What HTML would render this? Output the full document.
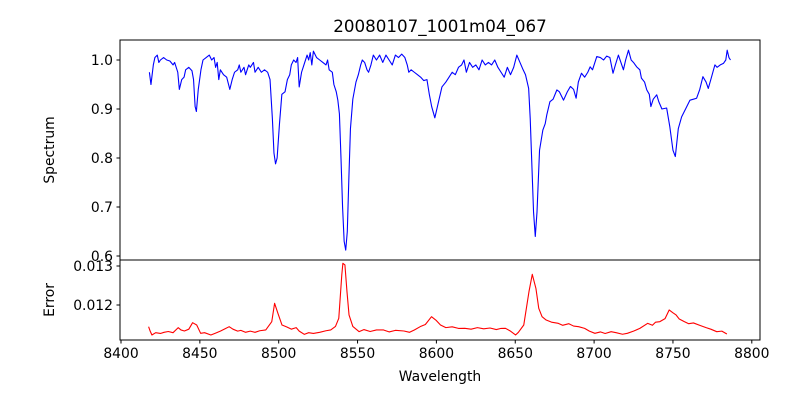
<!DOCTYPE html>
<html><head><meta charset="utf-8">
<style>
html,body{margin:0;padding:0;background:#fff;}
svg{display:block;font-family:"DejaVu Sans","Liberation Sans",sans-serif;}
</style></head>
<body>
<svg id="fig" width="800" height="400" viewBox="0 0 800 400"></svg>
<script>
const fluxWl=[8418,8419,8420.5,8421.5,8423,8424,8425,8427,8429,8431,8433,8434,8436,8437,8438.5,8440,8441,8443,8445,8446,8447,8447.8,8449,8450.7,8452,8454,8456,8457.5,8459,8460,8461,8462,8463,8465,8467,8469,8470.5,8472,8474,8475,8476,8478,8479,8481,8482,8484,8485,8487,8489,8491,8493,8494.5,8496,8497,8498,8499,8500.5,8502,8504,8505.5,8507,8508,8509.5,8511,8512,8513,8514.5,8516,8518,8519,8520,8521,8522,8524,8526,8528,8530,8531,8532,8534,8535,8536.5,8537.5,8538.5,8539.5,8540.5,8541.5,8542.5,8543.5,8544.5,8545.5,8547,8549,8550.5,8552,8553,8554.5,8556,8557,8558.5,8560,8562,8564,8566,8568,8570,8572,8574,8576,8578,8580,8581.5,8582.5,8584,8586,8588,8590,8592,8594,8595.5,8597,8599,8601,8603.5,8606,8608,8610,8612,8614,8616,8617.5,8619,8621,8623,8625,8627,8629,8631,8633,8635,8637,8639,8641,8643,8645,8647,8649,8651,8653,8655,8656.5,8658.5,8659.5,8660.6,8661.6,8662.7,8663.8,8665.4,8667.5,8669,8670,8672,8674,8676.4,8678,8680.6,8683,8685,8687,8688.6,8690,8692,8694,8696,8697.5,8699,8701.7,8704,8706,8708,8710,8712,8713.5,8715.4,8717,8718.6,8720,8721.8,8723.5,8725,8727,8729,8730,8732,8733.4,8735,8736,8737.5,8739.7,8741,8743,8746,8748,8750,8751.5,8753.4,8755.5,8758,8760.8,8763,8765,8767,8769,8771,8772.4,8774,8776.6,8778,8780,8782,8783.5,8784.4,8785.5,8786.5];
const fluxVal=[0.975,0.95,0.99,1.005,1.01,0.995,1.0,1.005,1.0,0.998,0.99,0.995,0.975,0.94,0.96,0.965,0.98,0.985,0.978,0.96,0.905,0.895,0.94,0.98,1.0,1.005,1.01,1.0,1.005,0.985,0.995,0.96,0.98,0.97,0.965,0.94,0.96,0.975,0.98,0.99,0.975,0.985,0.97,0.99,0.985,0.995,0.975,0.985,0.975,0.98,0.975,0.96,0.88,0.81,0.788,0.8,0.87,0.93,0.935,0.96,0.97,0.99,1.0,0.995,1.005,0.945,0.975,0.99,1.01,1.0,1.015,0.99,1.018,1.005,1.0,0.995,0.99,1.0,0.98,0.975,0.95,0.935,0.918,0.89,0.8,0.7,0.63,0.612,0.65,0.76,0.86,0.92,0.955,0.97,0.99,1.0,0.995,0.98,0.975,0.99,1.01,1.0,1.01,0.995,1.01,1.0,0.99,1.01,1.005,1.012,1.005,0.99,0.975,0.98,0.975,0.97,0.965,0.958,0.96,0.93,0.905,0.882,0.91,0.945,0.955,0.965,0.975,0.97,0.985,0.99,1.0,0.975,0.995,0.985,0.99,0.98,1.0,0.99,0.995,0.99,1.0,0.985,0.975,0.965,0.985,0.97,0.985,1.01,0.995,0.98,0.97,0.942,0.88,0.78,0.69,0.64,0.69,0.816,0.857,0.87,0.888,0.915,0.92,0.939,0.935,0.918,0.935,0.946,0.94,0.922,0.955,0.973,0.965,0.975,0.986,0.98,1.007,1.005,1.0,1.008,1.005,0.973,0.99,1.01,0.995,0.98,1.0,1.02,1.0,0.995,0.986,0.98,0.963,0.955,0.939,0.93,0.905,0.92,0.929,0.915,0.9,0.902,0.864,0.816,0.803,0.86,0.884,0.9,0.918,0.92,0.922,0.94,0.966,0.955,0.942,0.96,0.99,0.985,0.99,0.993,1.0,1.02,1.005,1.0];
const errWl=[8417.5,8418.5,8419.6,8422,8425,8427.3,8430,8433,8436.3,8438,8440.2,8443,8445.4,8448,8450.5,8453,8457,8460,8463,8466,8468.6,8471,8474,8476,8478.9,8482,8485,8488,8491.8,8495.6,8497.4,8499.5,8502.1,8505,8508,8511.1,8513,8516.2,8519,8522,8526,8530,8533,8536,8538.1,8540,8540.7,8542,8543.3,8544.6,8547,8551,8554,8558,8562,8566.5,8570,8574,8579.4,8583,8586,8589.7,8593,8596.9,8600,8602.6,8606,8610,8614,8618,8622,8626,8630,8634,8638,8641,8643.8,8647,8650.2,8652,8655.4,8658.7,8660.8,8663.1,8664.9,8667,8669.6,8673,8677.3,8680,8684,8687,8690.2,8694,8697,8700.5,8704,8707,8710.8,8714,8718,8721.1,8725,8729,8734,8737,8739,8741.7,8745,8747.6,8750,8752,8754,8757.2,8760,8763,8767.5,8771,8774,8777.8,8781,8784.2];
const errVal=[0.011444,0.011330,0.011231,0.011290,0.011270,0.0113,0.011320,0.011290,0.011419,0.011360,0.011333,0.011380,0.011547,0.011487,0.011274,0.011290,0.011231,0.011280,0.011330,0.011390,0.011444,0.011380,0.011330,0.011350,0.0113,0.011330,0.011300,0.011340,0.01136,0.011573,0.012043,0.011786,0.011487,0.011440,0.011380,0.011419,0.011330,0.011248,0.011290,0.011270,0.011300,0.011340,0.01136,0.011450,0.011658,0.012769,0.013068,0.013026,0.012342,0.011744,0.011450,0.011316,0.011370,0.011320,0.011360,0.01136,0.011310,0.011350,0.011333,0.011300,0.011360,0.011444,0.011500,0.0117,0.011600,0.011487,0.011420,0.011440,0.011400,0.011402,0.011380,0.011420,0.011390,0.011410,0.011370,0.011400,0.011402,0.011330,0.011231,0.011300,0.011487,0.012342,0.012786,0.012427,0.011914,0.011700,0.011615,0.011560,0.01153,0.011480,0.011520,0.011460,0.011444,0.011400,0.011330,0.011274,0.011310,0.011270,0.011316,0.011290,0.011250,0.011274,0.011330,0.011400,0.01153,0.011480,0.011560,0.011573,0.011650,0.011872,0.011800,0.011744,0.011640,0.011573,0.011520,0.011540,0.011471,0.011420,0.011380,0.011316,0.011330,0.011256];
const xTicks=[8400,8450,8500,8550,8600,8650,8700,8750,8800];
const fluxTicks=[0.6,0.7,0.8,0.9,1.0];
const errTicks=[0.012,0.013];

const NS="http://www.w3.org/2000/svg";
const svg=document.getElementById('fig');
const L=120,R=760,T1=40,B1=260,T2=260,B2=340;
const X=v=>121+(v-8400)*1.577;
const Y1=v=>60+(1.0-v)*490;
const Y2=v=>266+(0.013-v)*39000;
function mk(tag,attrs,parent){const e=document.createElementNS(NS,tag);for(const k in attrs)e.setAttribute(k,attrs[k]);(parent||svg).appendChild(e);return e;}
function txt(s,attrs){const e=mk('text',attrs);e.textContent=s;return e;}

let d=fluxWl.map((w,i)=>(i?'L':'M')+X(w).toFixed(2)+','+Y1(fluxVal[i]).toFixed(2)).join('');
const sp=mk('path',{d:d,fill:'none',stroke:'#0000ff','stroke-width':1.1,'stroke-linejoin':'round'});


d=errWl.map((w,i)=>(i?'L':'M')+X(w).toFixed(2)+','+Y2(errVal[i]).toFixed(2)).join('');
const ep=mk('path',{d:d,fill:'none',stroke:'#ff0000','stroke-width':1.1,'stroke-linejoin':'round'});



const f1=mk('rect',{x:L,y:T1,width:R-L,height:B1-T1,fill:'none',stroke:'#000','stroke-width':1});


const f2=mk('rect',{x:L,y:T2,width:R-L,height:B2-T2,fill:'none',stroke:'#000','stroke-width':1});



xTicks.forEach(t=>{const x=X(t);mk('line',{x1:x,x2:x,y1:B2,y2:B2+3.5,stroke:'#000'});
 const l=txt(String(t),{x:x,y:B2+18,'text-anchor':'middle','font-size':13.9});
 
 });
fluxTicks.forEach(t=>{const y=Y1(t);mk('line',{x1:L,x2:L-3.5,y1:y,y2:y,stroke:'#000'});
 const l=txt(t.toFixed(1),{x:L-7,y:y+5,'text-anchor':'end','font-size':13.9});
 
 });
errTicks.forEach(t=>{const y=Y2(t);mk('line',{x1:L,x2:L-3.5,y1:y,y2:y,stroke:'#000'});
 const l=txt(t.toFixed(3),{x:L-7,y:y+5,'text-anchor':'end','font-size':13.9});
 
 });

const ti=txt('20080107_1001m04_067',{x:440,y:32,'text-anchor':'middle','font-size':16.7});


const xl=txt('Wavelength',{x:440,y:381,'text-anchor':'middle','font-size':13.9});


const yl=txt('Spectrum',{x:0,y:0,'text-anchor':'middle','font-size':13.9,transform:'translate(54,150) rotate(-90)'});


const el=txt('Error',{x:0,y:0,'text-anchor':'middle','font-size':13.9,transform:'translate(54,300) rotate(-90)'});


</script>
</body></html>
